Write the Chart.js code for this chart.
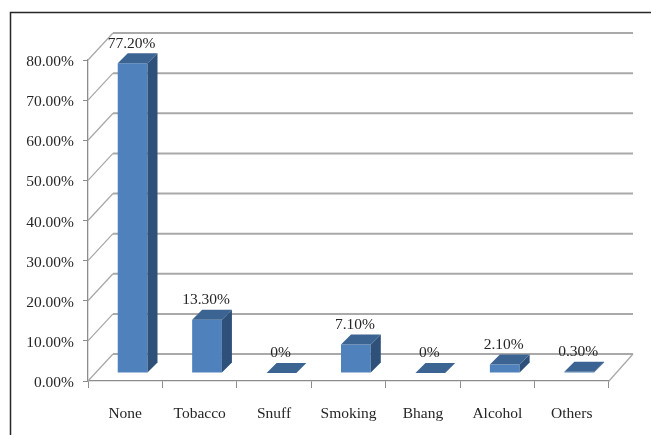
<!DOCTYPE html>
<html>
<head>
<meta charset="utf-8">
<script src="https://cdn.jsdelivr.net/npm/chart.js@4/dist/chart.umd.min.js"></script>
<style>
  html, body { margin: 0; padding: 0; background: #fff; }
  #wrap { width: 651px; height: 435px; position: relative; }
</style>
</head>
<body>
<div id="wrap"><canvas id="c"></canvas></div>
<script>
// ── data ──
const categories  = ['None', 'Tobacco', 'Snuff', 'Smoking', 'Bhang', 'Alcohol', 'Others'];
const values      = [77.2, 13.3, 0, 7.1, 0, 2.1, 0.3];
const valueLabels = ['77.20%', '13.30%', '0%', '7.10%', '0%', '2.10%', '0.30%'];
const yMin = 0, yMax = 80, yStep = 10;

// ── 3D look ──
const WALL_DX = 25, WALL_DY = -27;   // depth of the back wall
const BAR_DX = 7.4, BAR_DY = -8;     // where the bar's front face sits inside the depth
const BOX_DX = 10, BOX_DY = -10;     // depth of each bar
const FONT = "'Liberation Serif', 'Times New Roman', serif";
const TEXT = '#262626';
const GRID = '#a9a9a9';

const bar3d = {
  id: 'bar3d',
  beforeDatasetsDraw(chart) {
    const { ctx, chartArea: { left, right, bottom }, scales: { y } } = chart;
    ctx.save();
    ctx.strokeStyle = GRID;
    // back wall grid + diagonals on the side wall
    for (let v = yMin; v <= yMax; v += yStep) {
      const py = y.getPixelForValue(v);
      ctx.lineWidth = 1.3;
      ctx.beginPath(); ctx.moveTo(left, py); ctx.lineTo(left + WALL_DX, py + WALL_DY); ctx.stroke();
      ctx.lineWidth = 2;
      ctx.beginPath(); ctx.moveTo(left + WALL_DX, py + WALL_DY); ctx.lineTo(right + WALL_DX - 1, py + WALL_DY); ctx.stroke();
    }
    // floor right edge
    ctx.lineWidth = 1.3;
    ctx.beginPath(); ctx.moveTo(right, bottom); ctx.lineTo(right + WALL_DX - 1, bottom + WALL_DY); ctx.stroke();
    ctx.restore();

    // bars' front faces are drawn by Chart.js a little back in depth
    ctx.save();
    ctx.translate(BAR_DX, BAR_DY);
  },
  afterDatasetsDraw(chart) {
    const { ctx } = chart;
    const meta = chart.getDatasetMeta(0);
    meta.data.forEach(el => {
      const { x, y, base, width } = el.getProps(['x', 'y', 'base', 'width'], true);
      const l = x - width / 2, r = x + width / 2;
      // side
      ctx.fillStyle = '#2f5079';
      ctx.beginPath();
      ctx.moveTo(r, base); ctx.lineTo(r, y);
      ctx.lineTo(r + BOX_DX, y + BOX_DY); ctx.lineTo(r + BOX_DX, base + BOX_DY);
      ctx.closePath(); ctx.fill();
      // top
      ctx.fillStyle = '#3c6493';
      ctx.beginPath();
      ctx.moveTo(l, y); ctx.lineTo(r, y);
      ctx.lineTo(r + BOX_DX, y + BOX_DY); ctx.lineTo(l + BOX_DX, y + BOX_DY);
      ctx.closePath(); ctx.fill();
    });
    // value labels
    ctx.fillStyle = TEXT;
    ctx.font = '15.5px ' + FONT;
    ctx.textAlign = 'center';
    ctx.textBaseline = 'bottom';
    meta.data.forEach((el, i) => {
      const { x, y } = el.getProps(['x', 'y'], true);
      ctx.fillText(valueLabels[i], x - 1, y + BOX_DY - 2);
    });
    ctx.restore();
  },
  afterDraw(chart) {
    const { ctx, width, height } = chart;
    ctx.save();
    ctx.strokeStyle = '#262626'; ctx.lineWidth = 1.5;
    ctx.beginPath(); ctx.moveTo(10.5, height); ctx.lineTo(10.5, 12.5); ctx.lineTo(width, 12.5); ctx.stroke();
    ctx.restore();
  }
};

new Chart(document.getElementById('c'), {
  type: 'bar',
  data: {
    labels: categories,
    datasets: [{
      data: values,
      backgroundColor: '#4f81bd',
      borderWidth: 0,
      barPercentage: 0.4,
      categoryPercentage: 1,
      clip: false
    }]
  },
  options: {
    responsive: true, maintainAspectRatio: false, animation: false,
    layout: { padding: { left: 10, right: 42, top: 60, bottom: 0 } },
    plugins: { legend: { display: false }, tooltip: { enabled: false } },
    scales: {
      x: {
        afterFit: s => { s.height = 54; },
        grid: { drawOnChartArea: false, drawTicks: true, tickLength: 7, color: '#8c8c8c', offset: true },
        border: { display: true, color: '#8c8c8c', width: 1.3 },
        ticks: { color: TEXT, font: { size: 15.5, family: FONT }, padding: 17 }
      },
      y: {
        min: yMin, max: yMax,
        afterFit: s => { s.width = 78; },
        grid: { drawOnChartArea: false, drawTicks: true, tickLength: 5, color: '#8c8c8c' },
        border: { display: true, color: '#8c8c8c', width: 1.3 },
        ticks: { stepSize: yStep, color: TEXT, font: { size: 15.5, family: FONT }, padding: 9, labelOffset: 2,
                 callback: v => v.toFixed(2) + '%' }
      }
    }
  },
  plugins: [bar3d]
});
</script>
</body>
</html>
